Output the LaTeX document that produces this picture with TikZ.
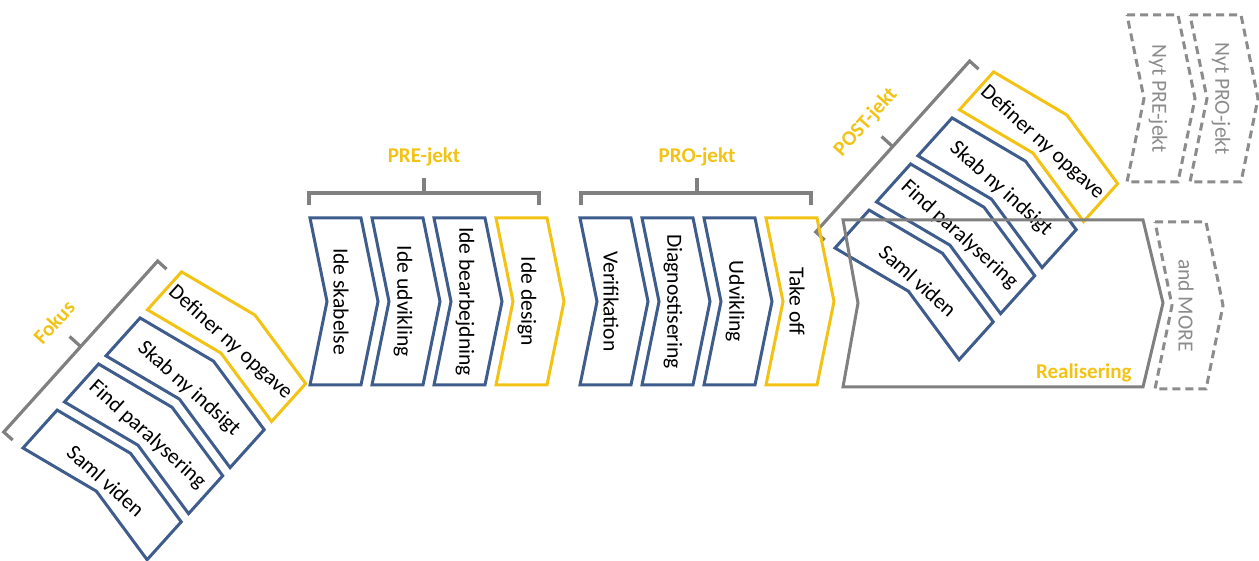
\documentclass[tikz,border=0pt]{standalone}
\usepackage{fontspec}
\setmainfont{Carlito}
\usepackage{tikz}
\definecolor{chBlue}{HTML}{3E5C8C}
\definecolor{chYellow}{HTML}{F2C314}
\definecolor{chGray}{HTML}{808080}
\definecolor{chGhost}{HTML}{8C8C8C}
\tikzset{
  chevLine/.style={line width=1.5pt, line join=miter},
  chevBlue/.style={chevLine, draw=chBlue},
  chevYellow/.style={chevLine, draw=chYellow},
  chevGhost/.style={chevLine, draw=chGhost, dash pattern=on 4pt off 2.5pt},
  chevText/.style={font=\fontsize{10.8}{13}\selectfont, rotate=-90, inner sep=0pt},
  braceLine/.style={line width=1.6pt, draw=chGray},
  stageLabel/.style={font=\fontsize{10.5}{12}\selectfont\bfseries, text=chYellow, inner sep=1pt},
  pics/chev/.style 2 args={code={
    \draw[#1] (0,0) -- (51,0) -- (68,-83.5) -- (51,-167) -- (0,-167) -- (17,-83.5) -- cycle;
    \node[chevText] (-txt) at (31,-83.5) {#2};
  }}
}

\begin{document}
\begin{tikzpicture}[x=0.5pt,y=0.5pt]
  \useasboundingbox (0,0) rectangle (1259,561);
  % Fokus and POST-jekt
  \foreach \gx/\gy/\gname/\glabel in {23/113/fok/Fokus, 835/313/post/POST-jekt}{
    \begin{scope}[shift={(\gx,\gy)}, rotate=48, transform shape]
      \foreach \txt [count=\i] in {Saml viden,Find paralysering,Skab ny indsigt}
        \pic (\gname\i) at ({62*(\i-1)},0) {chev={chevBlue}{\txt}};
      \pic (\gname4) at (186,0) {chev={chevYellow}{Definer ny opgave}};
      \draw[braceLine] (-1,13) -- (-1,25) -- (229,25) -- (229,13) (114,25) -- (114,40);
      \node[stageLabel] (\gname Label) at (114,61) {\glabel};
    \end{scope}
  }
  % PRE-jekt
  \begin{scope}[shift={(310,343)}]
    \foreach \txt [count=\i] in {Ide skabelse,Ide udvikling,Ide bearbejdning}
      \pic (pre\i) at ({62*(\i-1)},0) {chev={chevBlue}{\txt}};
    \pic (pre4) at (186,0) {chev={chevYellow}{Ide design}};
    \draw[braceLine] (-1,13) -- (-1,25) -- (229,25) -- (229,13) (114,25) -- (114,40);
    \node[stageLabel] (preLabel) at (114,61) {PRE-jekt};
  \end{scope}
  % PRO-jekt
  \begin{scope}[shift={(580,343)}]
    \foreach \txt [count=\i] in {Verifikation,Diagnostisering,Udvikling}
      \pic (pro\i) at ({62*(\i-1)},0) {chev={chevBlue}{\txt}};
    \pic (pro4) at (186,0) {chev={chevYellow}{Take off}};
    \draw[braceLine] (1,13) -- (1,25) -- (231,25) -- (231,13) (117,25) -- (117,40);
    \node[stageLabel] (proLabel) at (117,61) {PRO-jekt};
  \end{scope}
  % Realisering
  \draw[chevLine, draw=chGray] (843,341) -- (1143,341) -- (1163,258) -- (1143,174) -- (843,174) -- (858,258) -- cycle;
  \node[stageLabel, anchor=east] (realLabel) at (1134,188) {Realisering};
  \pic[text=chGhost] (nytPre) at (1127,546) {chev={chevGhost}{Nyt PRE-jekt}};
  \pic[text=chGhost] (nytPro) at (1190,546) {chev={chevGhost}{Nyt PRO-jekt}};
  \pic[text=chGhost] (andMore) at (1155,339) {chev={chevGhost}{and MORE}};
\end{tikzpicture}
\end{document}
